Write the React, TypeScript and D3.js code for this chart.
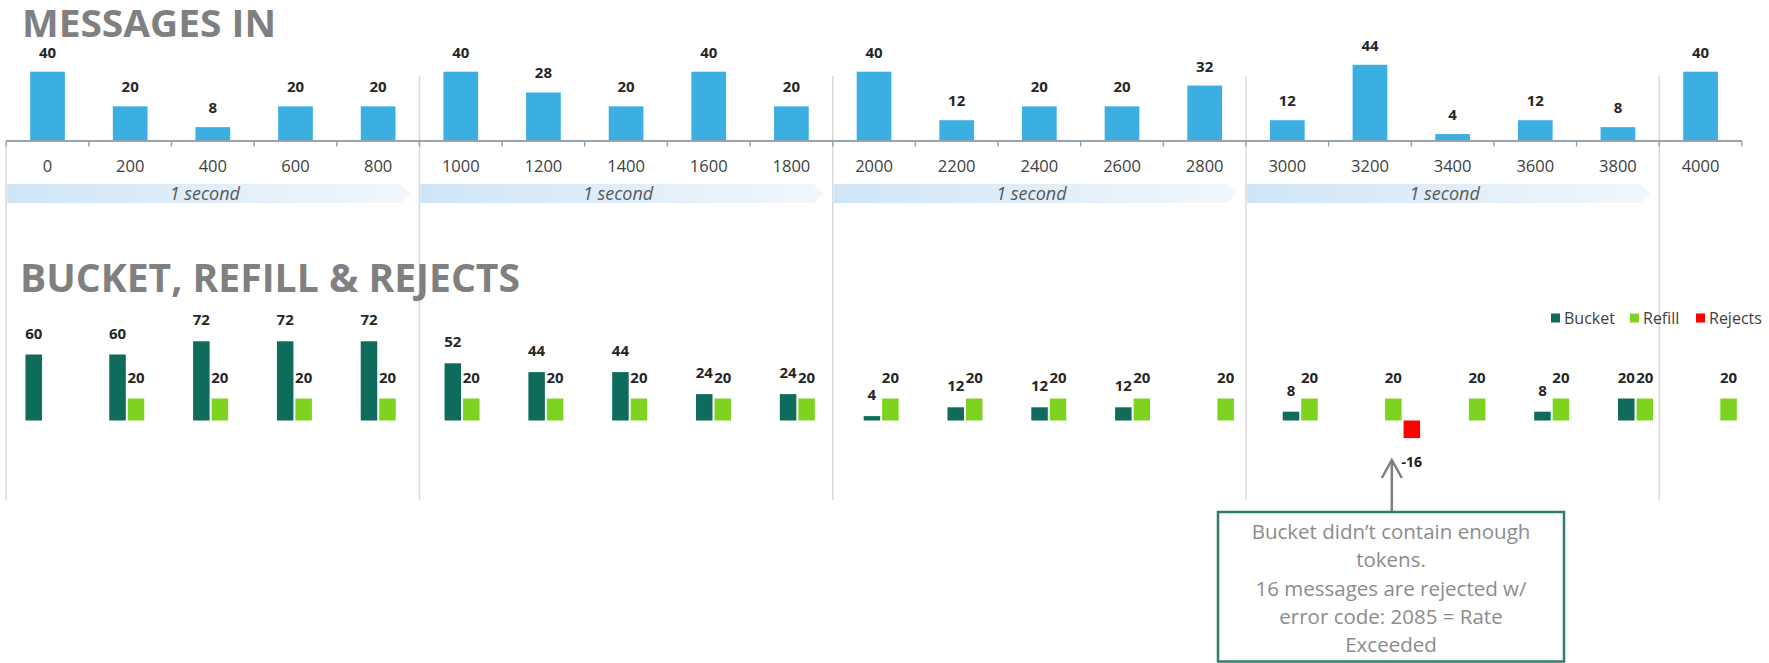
import React from "react";
import * as d3 from "d3";

const categories = ["0","200","400","600","800","1000","1200","1400","1600","1800","2000","2200","2400","2600","2800","3000","3200","3400","3600","3800","4000"];
const messagesIn = [40,20,8,20,20,40,28,20,40,20,40,12,20,20,32,12,44,4,12,8,40];
const bucket = [60,60,72,72,72,52,44,44,24,24,4,12,12,12,0,8,0,0,8,20,0];
const refill = [0,20,20,20,20,20,20,20,20,20,20,20,20,20,20,20,20,20,20,20,20];
const rejects = [0,0,0,0,0,0,0,0,0,0,0,0,0,0,0,0,-16,0,0,0,0];
const secondGroups = [0, 5, 10, 15];
const secondLabel = "1 second";
const legendItems = ["Bucket", "Refill", "Rejects"];
const noteLines = ["Bucket didn\u2019t contain enough", "tokens.", "16 messages are rejected w/", "error code: 2085 = Rate", "Exceeded"];

const W = 1769, H = 663;
const FONT = "'Open Sans', 'DejaVu Sans', sans-serif";
const C_TOP = "#3cafe2";
const C_BUCKET = "#0f6b5b";
const C_REFILL = "#7ed321";
const C_REJECT = "#ff0000";
const C_TITLE = "#808080";
const C_SEP = "#dadada";

export default function App() {
  // top chart scales
  const xTop = d3.scaleBand<string>().domain(categories).range([6.2, 1741.9]).padding(0);
  const yTop = d3.scaleLinear().domain([0, 40]).range([141, 141 - 69.3]);
  const tbw = xTop.bandwidth() * 0.42;

  // bottom chart scales
  const xBot = d3.scaleBand<string>().domain(categories).range([10.3, 1770.5]).padding(0);
  const yBot = d3.scaleLinear().domain([0, 60]).range([420.5, 420.5 - 66]);
  const bw = 16.5, gap = 2;
  const cBot = (c: string) => (xBot(c) as number) + xBot.bandwidth() / 2;
  const series = [
    { name: "Bucket", values: bucket, color: C_BUCKET, off: -bw / 2 - bw - gap },
    { name: "Refill", values: refill, color: C_REFILL, off: -bw / 2 },
    { name: "Rejects", values: rejects, color: C_REJECT, off: bw / 2 + gap },
  ];

  const boundaries = d3.range(categories.length + 1).map((i) =>
    i < categories.length ? (xTop(categories[i]) as number) : (xTop(categories[categories.length - 1]) as number) + xTop.bandwidth()
  );
  const sepIdx = [5, 10, 15, 20];

  const rejectIdx = rejects.findIndex((v) => v < 0);
  const arrowX = cBot(categories[rejectIdx]) - 1.5;
  const boxX0 = 1218, boxX1 = 1564, boxY0 = 512, boxY1 = 661.5;
  const legendX = [1551, 1630, 1696];

  return (
    <svg width={W} height={H} style={{ position: "absolute", left: 0, top: 0, background: "#fff" }} fontFamily={FONT}>
      <defs>
        <linearGradient id="secGrad" x1="0" x2="1" y1="0" y2="0">
          <stop offset="0%" stopColor="#cfe5f6" />
          <stop offset="100%" stopColor="#f1f7fc" />
        </linearGradient>
      </defs>
      <rect x={0} y={0} width={W} height={H} fill="#fff" />

      {/* separators */}
      {sepIdx.map((i) => (
        <line key={"sep" + i} x1={boundaries[i]} x2={boundaries[i]} y1={76} y2={500} stroke={C_SEP} strokeWidth={1.5} />
      ))}
      <line x1={6} x2={6} y1={146} y2={500} stroke={C_SEP} strokeWidth={1.5} />

      {/* titles */}
      <text x={22} y={37} fontSize={38} fontWeight={700} fill={C_TITLE} textLength={254} lengthAdjust="spacingAndGlyphs">MESSAGES IN</text>
      <text x={20} y={291.7} fontSize={39} fontWeight={700} fill={C_TITLE} textLength={500} lengthAdjust="spacingAndGlyphs">BUCKET, REFILL &amp; REJECTS</text>

      {/* top chart bars */}
      {categories.map((c, i) => {
        const cx = (xTop(c) as number) + xTop.bandwidth() / 2;
        const v = messagesIn[i];
        return (
          <g key={"tb" + c}>
            <rect x={cx - tbw / 2} y={yTop(v)} width={tbw} height={yTop(0) - yTop(v)} fill={C_TOP} />
            <text x={cx} y={yTop(v) - 14} textAnchor="middle" fontSize={15} fontWeight={700} fill="#262626">{v}</text>
          </g>
        );
      })}
      {/* top axis */}
      <line x1={boundaries[0]} x2={boundaries[boundaries.length - 1]} y1={141} y2={141} stroke="#98a4ad" strokeWidth={2} />
      {boundaries.map((b, i) => (
        <line key={"tk" + i} x1={b} x2={b} y1={141} y2={146.5} stroke="#98a4ad" strokeWidth={1.5} />
      ))}
      {categories.map((c) => (
        <text key={"tl" + c} x={(xTop(c) as number) + xTop.bandwidth() / 2} y={166} dy="0.35em" textAnchor="middle" fontSize={16.5} fill="#404040">{c}</text>
      ))}

      {/* 1 second bands */}
      {secondGroups.map((g) => {
        const x0 = boundaries[g] + 1;
        const xe = boundaries[g + 5] - 9;
        const y0 = 184, y1 = 203, ym = (y0 + y1) / 2;
        return (
          <g key={"sec" + g}>
            <polygon points={`${x0},${y0} ${xe - 10},${y0} ${xe},${ym} ${xe - 10},${y1} ${x0},${y1}`} fill="url(#secGrad)" />
            <text x={(x0 + xe) / 2 - 4} y={ym} dy="0.35em" textAnchor="middle" fontSize={18} fontStyle="italic" fill="#595959">{secondLabel}</text>
          </g>
        );
      })}

      {/* bottom chart bars */}
      {series.map((s) =>
        categories.map((c, i) => {
          const v = s.values[i];
          if (v === 0) return null;
          const x = cBot(c) + s.off;
          const yv = yBot(v), y0 = yBot(0);
          const top = Math.min(yv, y0), h = Math.abs(yv - y0);
          return (
            <g key={s.name + c}>
              <rect x={x} y={top} width={bw} height={h} fill={s.color} />
              {v > 0 ? (
                <text x={x + bw / 2} y={yv - 16} textAnchor="middle" fontSize={15} fontWeight={700} fill="#262626">{v}</text>
              ) : (
                <text x={x + bw / 2} y={yv + 24} dy="0.35em" textAnchor="middle" fontSize={14} fontWeight={700} fill="#1a1a1a">{v}</text>
              )}
            </g>
          );
        })
      )}

      {/* legend */}
      {legendItems.map((name, i) => (
        <g key={"lg" + name}>
          <rect x={legendX[i]} y={313.5} width={9} height={9} fill={series[i].color} />
          <text x={legendX[i] + 13} y={318} dy="0.35em" fontSize={16} fill="#404040">{name}</text>
        </g>
      ))}

      {/* annotation arrow */}
      <line x1={arrowX} x2={arrowX} y1={boxY0} y2={461} stroke="#7f7f7f" strokeWidth={2.5} />
      <polyline points={`${arrowX - 10},${478} ${arrowX},${460} ${arrowX + 10},${478}`} fill="none" stroke="#7f7f7f" strokeWidth={2.5} />

      {/* annotation box */}
      <rect x={boxX0} y={boxY0} width={boxX1 - boxX0} height={boxY1 - boxY0} fill="#fff" stroke="#2e7d6d" strokeWidth={2.5} />
      {noteLines.map((t, i) => (
        <text key={"nl" + i} x={(boxX0 + boxX1) / 2} y={531.7 + i * 28.35} dy="0.35em" textAnchor="middle" fontSize={20.5} fill="#8c8c8c">{t}</text>
      ))}
    </svg>
  );
}
